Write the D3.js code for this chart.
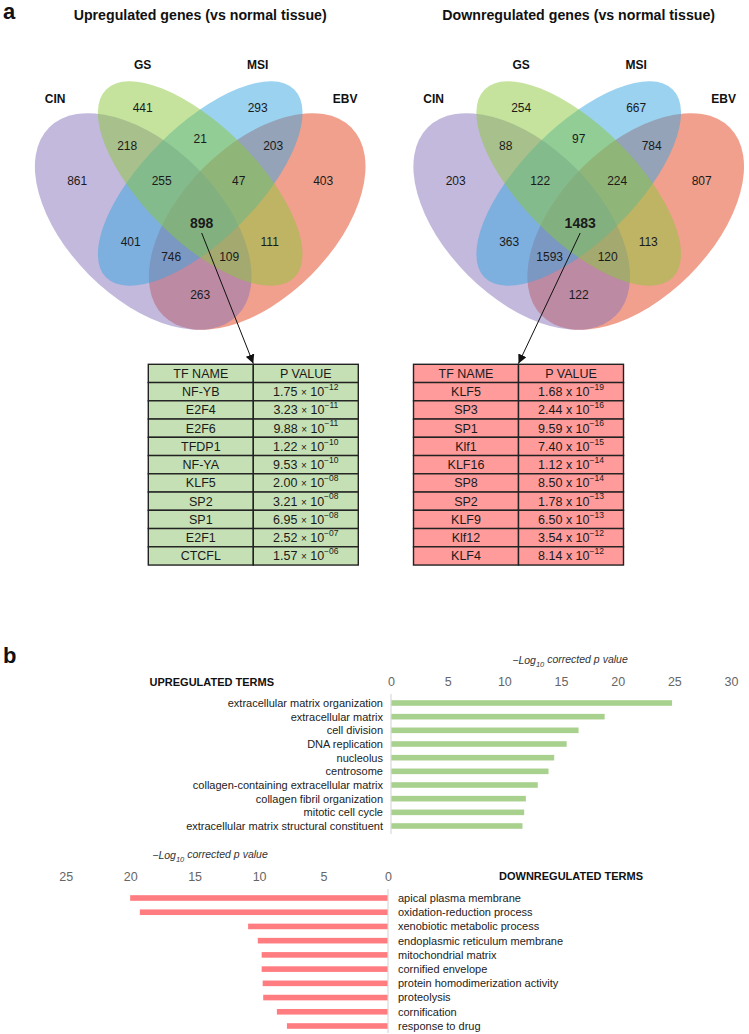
<!DOCTYPE html>
<html><head><meta charset="utf-8">
<script src="https://cdn.jsdelivr.net/npm/d3@7"></script>
<style>
body{margin:0;background:#fff;}
svg{display:block;font-family:"Liberation Sans",Arial,sans-serif;}
</style></head>
<body><svg id="c" width="749" height="1034"></svg>
<script>
// ---------- DATA ----------
const vennSets = ["CIN","GS","MSI","EBV"];
const vennRegions = ["CIN","GS","MSI","EBV","CIN&GS","GS&MSI","MSI&EBV","CIN&GS&MSI","GS&MSI&EBV","ALL","CIN&MSI","GS&EBV","CIN&MSI&EBV","CIN&GS&EBV","CIN&EBV"];
const upCounts   = [861,441,293,403,218,21,203,255,47,898,401,111,746,109,263];
const downCounts = [203,254,667,807,88,97,784,122,224,1483,363,113,1593,120,122];
const vennTitles = ["Upregulated genes (vs normal tissue)","Downregulated genes (vs normal tissue)"];

const tableHeader = ["TF NAME","P VALUE"];
const upTF   = ["NF-YB","E2F4","E2F6","TFDP1","NF-YA","KLF5","SP2","SP1","E2F1","CTCFL"];
const upMant = ["1.75","3.23","9.88","1.22","9.53","2.00","3.21","6.95","2.52","1.57"];
const upExp  = ["−12","−11","−11","−10","−10","−08","−08","−08","−07","−06"];
const downTF   = ["KLF5","SP3","SP1","Klf1","KLF16","SP8","SP2","KLF9","Klf12","KLF4"];
const downMant = ["1.68","2.44","9.59","7.40","1.12","8.50","1.78","6.50","3.54","8.14"];
const downExp  = ["−19","−16","−16","−15","−14","−14","−13","−13","−12","−12"];

const upTerms = ["extracellular matrix organization","extracellular matrix","cell division","DNA replication","nucleolus","centrosome","collagen-containing extracellular matrix","collagen fibril organization","mitotic cell cycle","extracellular matrix structural constituent"];
const upValues = [24.8,18.85,16.55,15.5,14.4,13.9,12.95,11.9,11.75,11.6];
const upTicks = [0,5,10,15,20,25,30];
const downTerms = ["apical plasma membrane","oxidation-reduction process","xenobiotic metabolic process","endoplasmic reticulum membrane","mitochondrial matrix","cornified envelope","protein homodimerization activity","proteolysis","cornification","response to drug"];
const downValues = [20.0,19.25,10.85,10.1,9.8,9.8,9.72,9.68,8.62,7.84];
const downTicks = [0,5,10,15,20,25];

// ---------- STYLE / LAYOUT ----------
const FONT = '"Liberation Sans",Arial,sans-serif';
const setFill = {CIN:"rgb(135,115,185)",GS:"rgb(140,200,60)",MSI:"rgb(55,165,225)",EBV:"rgb(226,66,28)"};
const drawOrder = ["EBV","CIN","MSI","GS"];
const ell = {
  CIN:{dx:-57,dy:221.5,rx:133,ry:76,rot:45},
  EBV:{dx:57,dy:221.5,rx:133,ry:76,rot:-45},
  GS:{dx:0,dy:183.5,rx:133,ry:57,rot:45},
  MSI:{dx:0,dy:183.5,rx:133,ry:57,rot:-45}
};
const setLabelPos = {CIN:[-145,103],GS:[-57.5,69],MSI:[57.5,69],EBV:[145,103]};
const regionPos = {
  "CIN":[-123,180.3],"GS":[-57.5,107.3],"MSI":[57.5,107.3],"EBV":[123,180.3],
  "CIN&GS":[-73,145.7],"GS&MSI":[0,138.3],"MSI&EBV":[73,145.7],
  "CIN&GS&MSI":[-38.5,180.3],"GS&MSI&EBV":[38.5,180.3],"ALL":[1.5,222.7],
  "CIN&MSI":[-69.5,241.3],"GS&EBV":[69.5,241.3],
  "CIN&MSI&EBV":[-29,256.7],"CIN&GS&EBV":[29,256.7],"CIN&EBV":[0,295]
};

const svg = d3.select("#c");
svg.append("defs").append("marker")
  .attr("id","arr").attr("viewBox","0 0 10 10").attr("refX",10).attr("refY",5)
  .attr("markerWidth",9).attr("markerHeight",9).attr("markerUnits","userSpaceOnUse")
  .attr("orient","auto")
  .append("path").attr("d","M0,0L10,5L0,10z").attr("fill","#111");

// panel letters
svg.append("text").attr("x",3).attr("y",19).attr("font-size",22).attr("font-weight","bold").attr("fill","#111").text("a");
svg.append("text").attr("x",3).attr("y",663).attr("font-size",22).attr("font-weight","bold").attr("fill","#111").text("b");

function venn(cx, counts, title, tf, mant, exp, tableX, tableFill, timesChar, arrowTip){
  const g = svg.append("g");
  g.append("text").attr("x",cx).attr("y",20).attr("text-anchor","middle")
    .attr("font-size",14.2).attr("font-weight","bold").attr("fill","#111").text(title);
  drawOrder.forEach(k=>{
    const e = ell[k];
    g.append("ellipse").attr("cx",0).attr("cy",0).attr("rx",e.rx).attr("ry",e.ry)
      .attr("transform",`translate(${cx+e.dx},${e.dy}) rotate(${e.rot})`)
      .attr("fill",setFill[k]).attr("fill-opacity",0.5);
  });
  vennSets.forEach(k=>{
    g.append("text").attr("x",cx+setLabelPos[k][0]).attr("y",setLabelPos[k][1])
      .attr("text-anchor","middle").attr("font-size",12).attr("font-weight","bold").attr("fill","#111").text(k);
  });
  vennRegions.forEach((r,i)=>{
    const p = regionPos[r];
    g.append("text").attr("x",cx+p[0]).attr("y",p[1]).attr("dy","0.35em")
      .attr("text-anchor","middle").attr("font-size",r==="ALL"?14:12)
      .attr("font-weight",r==="ALL"?"bold":"normal").attr("fill","#1a1a1a").text(counts[i]);
  });
  const rowH = 18.25, top = 364.3, w1 = 105, w2 = 105;
  const rows = [[tableHeader[0],null,null]].concat(tf.map((t,i)=>[t,mant[i],exp[i]]));
  const tg = g.append("g");
  rows.forEach((r,i)=>{
    const y = top + i*rowH;
    tg.append("rect").attr("x",tableX).attr("y",y).attr("width",w1).attr("height",rowH)
      .attr("fill",tableFill).attr("stroke","#222").attr("stroke-width",1.4);
    tg.append("rect").attr("x",tableX+w1).attr("y",y).attr("width",w2).attr("height",rowH)
      .attr("fill",tableFill).attr("stroke","#222").attr("stroke-width",1.4);
    tg.append("text").attr("x",tableX+w1/2).attr("y",y+rowH/2).attr("dy","0.36em")
      .attr("text-anchor","middle").attr("font-size",12.5).attr("fill","#1a1a1a").text(r[0]);
    const t = tg.append("text").attr("x",tableX+w1+w2/2).attr("y",y+rowH/2).attr("dy","0.36em")
      .attr("text-anchor","middle").attr("font-size",12.5).attr("fill","#1a1a1a");
    if(i===0){ t.text(tableHeader[1]); }
    else {
      t.append("tspan").text(r[1]+" ");
      t.append("tspan").attr("font-size",timesChar==="×"?10:12.5).text(timesChar);
      t.append("tspan").text(" 10");
      t.append("tspan").attr("font-size",8.5).attr("dy","-0.75em").text(r[2]);
    }
  });
  g.append("line").attr("x1",cx+1.5).attr("y1",233).attr("x2",arrowTip).attr("y2",363.5)
    .attr("stroke","#111").attr("stroke-width",1).attr("marker-end","url(#arr)");
}
venn(200.2, upCounts, vennTitles[0], upTF, upMant, upExp, 148.3, "#c5e0b4", "×", 253.3);
venn(578.7, downCounts, vennTitles[1], downTF, downMant, downExp, 413.5, "#ff9b9b", "x", 518.5);

// ---------- BAR CHARTS ----------
function axisTitle(x, y){
  const t = svg.append("text").attr("x",x).attr("y",y).attr("text-anchor","middle")
    .attr("font-size",10.5).attr("font-style","italic").attr("fill","#333");
  t.append("tspan").text("−Log");
  t.append("tspan").attr("font-size",7.5).attr("dy","0.35em").text("10");
  t.append("tspan").attr("dy","-0.35em").text(" corrected p value");
}
function styleAxis(g){
  g.select(".domain").remove();
  g.selectAll(".tick line").remove();
  g.selectAll(".tick text").attr("font-size",12.5).attr("fill","#666").attr("font-family",FONT);
}

const xU = d3.scaleLinear().domain([0,30]).range([391,731]);
const yU = d3.scalePoint().domain(upTerms).range([703,826]);
axisTitle(570, 664);
svg.append("text").attr("x",274).attr("y",686).attr("text-anchor","end").attr("font-size",11)
  .attr("font-weight","bold").attr("fill","#111").text("UPREGULATED TERMS");
svg.append("g").attr("transform","translate(0,689)")
  .call(d3.axisTop(xU).tickValues(upTicks).tickSize(0).tickPadding(3)).call(styleAxis);
svg.append("g").selectAll("rect").data(upTerms).join("rect")
  .attr("x",xU(0)).attr("y",d=>yU(d)-2.8).attr("height",5.6)
  .attr("width",(d,i)=>xU(upValues[i])-xU(0)).attr("fill","#a9d18e");
svg.append("line").attr("x1",xU(0)).attr("x2",xU(0)).attr("y1",694).attr("y2",834)
  .attr("stroke","#d9d9d9").attr("stroke-width",1.2);
svg.append("g").selectAll("text").data(upTerms).join("text")
  .attr("x",383).attr("y",d=>yU(d)).attr("dy","0.35em").attr("text-anchor","end")
  .attr("font-size",11).attr("fill","#222").text(d=>d);

const xD = d3.scaleLinear().domain([0,25]).range([388,65.7]);
const yD = d3.scalePoint().domain(downTerms).range([898,1026]);
axisTitle(210, 859);
svg.append("text").attr("x",499).attr("y",880).attr("font-size",11)
  .attr("font-weight","bold").attr("fill","#111").text("DOWNREGULATED TERMS");
svg.append("g").attr("transform","translate(0,883.5)")
  .call(d3.axisTop(xD).tickValues(downTicks).tickSize(0).tickPadding(3)).call(styleAxis);
svg.append("g").selectAll("rect").data(downTerms).join("rect")
  .attr("x",(d,i)=>xD(downValues[i])).attr("y",d=>yD(d)-2.8).attr("height",5.6)
  .attr("width",(d,i)=>xD(0)-xD(downValues[i])).attr("fill","#ff7c80");
svg.append("line").attr("x1",xD(0)).attr("x2",xD(0)).attr("y1",889).attr("y2",1033)
  .attr("stroke","#d9d9d9").attr("stroke-width",1.2);
svg.append("g").selectAll("text").data(downTerms).join("text")
  .attr("x",398).attr("y",d=>yD(d)).attr("dy","0.35em")
  .attr("font-size",11).attr("fill","#222").text(d=>d);
</script></body></html>
